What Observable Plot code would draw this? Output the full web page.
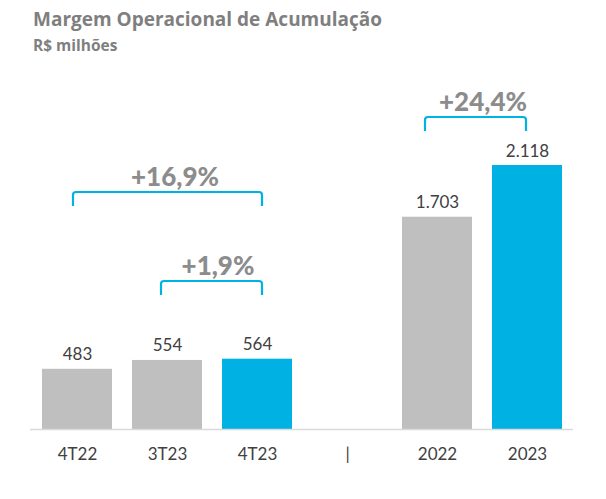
<!DOCTYPE html>
<html><head><meta charset="utf-8">
<script src="https://cdn.jsdelivr.net/npm/d3@7"></script>
<script src="https://cdn.jsdelivr.net/npm/@observablehq/plot@0.6"></script>
<style>
body{margin:0;background:#fff;font-family:Lato,"Noto Sans",sans-serif;}
#wrap{position:relative;width:606px;height:499px;overflow:hidden;}
#title{position:absolute;left:33px;top:10px;font-family:"Open Sans",sans-serif;font-weight:700;font-size:19px;line-height:19px;color:#7f7f7f;white-space:nowrap;}
#sub{position:absolute;left:33px;top:38px;font-family:"Open Sans",sans-serif;font-weight:700;font-size:15.5px;line-height:15px;color:#7f7f7f;white-space:nowrap;}
#chart{position:absolute;left:0;top:60px;}
</style></head><body>
<div id="wrap">
  <div id="title">Margem Operacional de Acumulação</div>
  <div id="sub">R$ milhões</div>
  <div id="chart"></div>
</div>
<script>
// ---- data ----
const categories = ["4T22", "3T23", "4T23", "|", "2022", "2023"];
const periods = ["4T22", "3T23", "4T23", "2022", "2023"];
const values = [483, 554, 564, 1703, 2118];
const valueLabels = ["483", "554", "564", "1.703", "2.118"];
const highlighted = [false, false, true, false, true];
const bracketFrom = ["4T22", "3T23", "2022"];
const bracketTo = ["4T23", "4T23", "2023"];
const bracketLabels = ["+16,9%", "+1,9%", "+24,4%"];

// ---- table built from the arrays ----
const data = periods.map((p, i) => ({period: p, value: values[i], label: valueLabels[i], hl: highlighted[i]}));
const brackets = bracketLabels.map((l, i) => ({from: bracketFrom[i], to: bracketTo[i], label: l}));

// ---- annotation layout (pixels) ----
const bracketLayout = [
  {top: 132, dx1: -4, dx2: 5, textDx: 8},
  {top: 221, dx1: -6, dx2: 5, textDx: 6},
  {top: 57, dx1: -12, dx2: -1, textDx: 1}
];

const BLUE = "#00b2e3", GRAY = "#bfbfbf";

function bracketMark(index, scales, vals, dims, context) {
  const x = scales.x, y = scales.y;
  const bw = (scales.scales && scales.scales.x && scales.scales.x.bandwidth) || (x.bandwidth ? x.bandwidth() : 0);
  const cx = c => x(c) + bw / 2;
  const g = d3.create("svg:g");
  brackets.forEach((b, i) => {
    const L = bracketLayout[i];
    const x1 = cx(b.from) + L.dx1, x2 = cx(b.to) + L.dx2;
    const t = L.top, bot = L.top + 14, r = 3;
    g.append("path")
      .attr("d", `M${x1},${bot}V${t + r}Q${x1},${t} ${x1 + r},${t}H${x2 - r}Q${x2},${t} ${x2},${t + r}V${bot}`)
      .attr("fill", "none").attr("stroke", BLUE).attr("stroke-width", 2.2);
    g.append("text")
      .attr("x", (cx(b.from) + cx(b.to)) / 2 + L.textDx)
      .attr("y", t - 6)
      .attr("text-anchor", "middle")
      .attr("font-size", 26).attr("font-weight", 900)
      .attr("font-family", "Lato, sans-serif")
      .attr("fill", "#8c8c8c")
      .text(b.label);
  });
  return g.node();
}

const chart = Plot.plot({
  width: 606,
  height: 439,
  marginLeft: 30,
  marginRight: 33,
  marginTop: 0,
  marginBottom: 70,
  style: {fontFamily: "Lato, sans-serif", color: "#404040", background: "transparent"},
  x: {domain: categories, paddingInner: 0.226, paddingOuter: 0.113},
  y: {domain: [0, 2118], range: [369, 105], axis: null},
  marks: [
    Plot.barY(data, {x: "period", y: "value", fill: d => d.hl ? BLUE : GRAY}),
    Plot.ruleY([0], {stroke: "#d9d9d9", strokeWidth: 1.5}),
    Plot.text(data, {x: "period", y: "value", text: "label", dy: -9, lineAnchor: "bottom", fontSize: 17, fill: "#404040"}),
    Plot.axisX({tickSize: 0, tickPadding: 18, fontSize: 17, label: null}),
    bracketMark
  ]
});
document.getElementById("chart").appendChild(chart);
</script>
</body></html>
